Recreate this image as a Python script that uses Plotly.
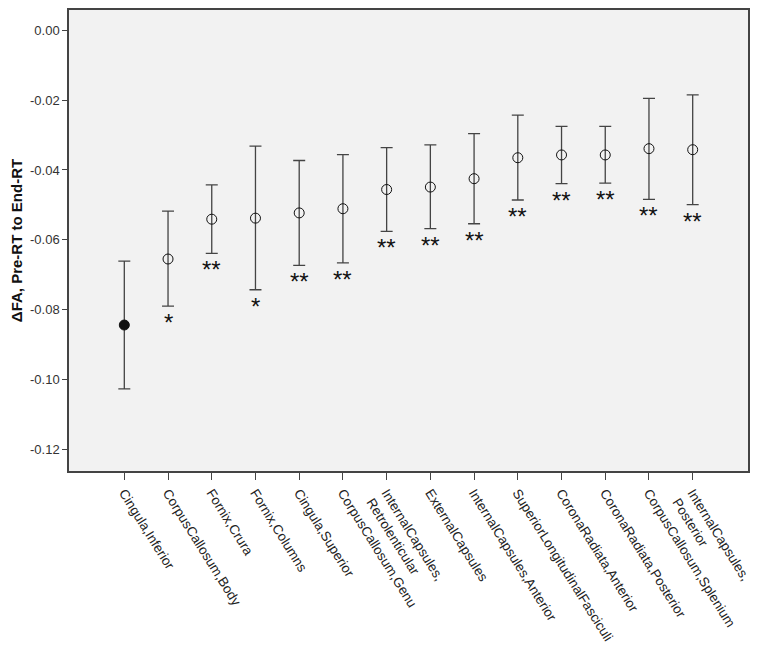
import plotly.graph_objects as go

# white matter regions, ordered as on the axis
regions = [
    "Cingula,Inferior", "CorpusCallosum,Body", "Fornix,Crura", "Fornix,Columns",
    "Cingula,Superior", "CorpusCallosum,Genu", "InternalCapsules,<br>Retrolenticular",
    "ExternalCapsules", "InternalCapsules,Anterior", "SuperiorLongitudinalFasciculi",
    "CoronaRadiata,Anterior", "CoronaRadiata,Posterior", "CorpusCallosum,Splenium",
    "InternalCapsules,<br>Posterior",
]
mean_dfa = [-0.0844, -0.0655, -0.0541, -0.0538, -0.0523, -0.0511, -0.0456,
            -0.0449, -0.0425, -0.0365, -0.0357, -0.0357, -0.0339, -0.0342]
ci_upper = [-0.0661, -0.0518, -0.0443, -0.0332, -0.0373, -0.0356, -0.0336,
            -0.0328, -0.0296, -0.0243, -0.0275, -0.0275, -0.0195, -0.0185]
ci_lower = [-0.1027, -0.0790, -0.0639, -0.0743, -0.0673, -0.0666, -0.0576,
            -0.0568, -0.0554, -0.0486, -0.0439, -0.0438, -0.0484, -0.0499]
significance = ["", "*", "**", "*", "**", "**", "**", "**", "**", "**", "**", "**", "**", "**"]
y_ticks = [0.0, -0.02, -0.04, -0.06, -0.08, -0.10, -0.12]

x_idx = list(range(len(regions)))
line_col = "#444444"

fig = go.Figure()
fig.add_trace(go.Scatter(
    x=x_idx,
    y=mean_dfa,
    mode="markers",
    marker=dict(
        symbol=["circle"] + ["circle-open"] * (len(regions) - 1),
        size=10,
        color="#111111",
        line=dict(width=1, color="#111111"),
    ),
    error_y=dict(
        type="data",
        symmetric=False,
        array=[u - m for u, m in zip(ci_upper, mean_dfa)],
        arrayminus=[m - l for m, l in zip(mean_dfa, ci_lower)],
        color=line_col,
        thickness=1.3,
        width=6,
    ),
    showlegend=False,
))

# significance stars under each lower whisker
for i, s in enumerate(significance):
    if s:
        fig.add_annotation(
            x=i, y=ci_lower[i], text=s, showarrow=False,
            yanchor="top", yshift=-1,
            font=dict(family="Arial, Liberation Sans", size=24, color="#111111"),
        )

# page body has an 8px margin, so the figure is drawn 8px smaller
fig.update_layout(
    width=751,
    height=638,
    margin=dict(l=61, r=11, t=0, b=175),
    paper_bgcolor="white",
    plot_bgcolor="#f2f2f2",
    font=dict(family="Arial, Liberation Sans", color="#222222"),
)
fig.update_xaxes(
    range=[-1.265, len(regions) - 1 + 1.265],
    tickmode="array",
    tickvals=x_idx,
    ticktext=regions,
    tickangle=58,
    ticks="outside",
    ticklen=7,
    tickcolor=line_col,
    tickfont=dict(size=13.5),
    showgrid=False,
    zeroline=False,
    showline=True,
    linecolor=line_col,
    linewidth=1.5,
    mirror=True,
)
fig.update_yaxes(
    range=[-0.1262, 0.0058],
    tickmode="array",
    tickvals=y_ticks,
    ticktext=[f"{v:.2f}" for v in y_ticks],
    ticks="outside",
    ticklen=5,
    tickcolor=line_col,
    tickfont=dict(size=13, color="#333333"),
    title=dict(text="<b>ΔFA, Pre-RT to End-RT</b>", font=dict(size=15, color="#111111"), standoff=8),
    showgrid=False,
    zeroline=False,
    showline=True,
    linecolor=line_col,
    linewidth=1.5,
    mirror=True,
)

fig.write_html("out.html")
